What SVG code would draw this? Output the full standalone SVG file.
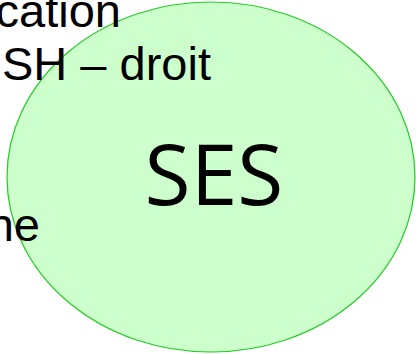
<svg xmlns="http://www.w3.org/2000/svg" width="416" height="354" viewBox="0 0 416 354">
<style>
.bg{font-family:"Liberation Sans",Arial,sans-serif;font-size:47px;fill:#000}
.lbl{font-family:"Open Sans","Liberation Sans",sans-serif;font-size:84px;fill:#000}
</style>
<rect width="416" height="354" fill="#fff"/>
<g id="ses">
<ellipse cx="211" cy="177" rx="204" ry="175" fill="#ccffcc" stroke="#22cc22" stroke-width="1.2"/>
</g>
<g id="background-text">
<text class="bg" x="121" y="27" text-anchor="end">cation</text>
<text class="bg" x="2" y="80">SH – droit</text>
<text class="bg" x="40" y="241" text-anchor="end">ne</text>
</g>
<g id="ses-label">
<text class="lbl" x="214" y="205" text-anchor="middle">SES</text>
</g>
</svg>
